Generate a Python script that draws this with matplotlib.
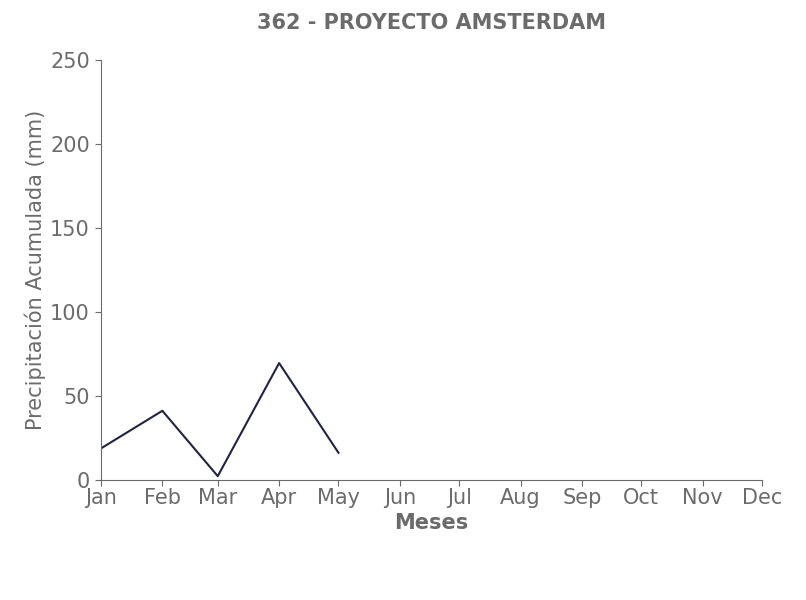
import matplotlib
matplotlib.use('Agg')
import matplotlib.pyplot as plt
import matplotlib.dates as mdates
import numpy as np
import datetime as dt

# Data
meses = [dt.datetime(2023, m, 1) for m in range(1, 6)]
precip = [18.8, 41.2, 2.3, 69.6, 16.2]

gris = '#6b6b6b'

fig = plt.figure(figsize=(8.06, 6), dpi=100)
ax = fig.add_axes([101/806, 120/600, 661/806, 420/600])

ax.plot(meses, precip, color='#222244', linewidth=1.5)

ax.set_xlim(dt.datetime(2023, 1, 1), dt.datetime(2023, 12, 1))
ax.set_ylim(0, 250)
ax.xaxis.set_major_locator(mdates.MonthLocator())
ax.xaxis.set_major_formatter(mdates.DateFormatter('%b'))

for s in ['top', 'right']:
    ax.spines[s].set_visible(False)
for s in ['left', 'bottom']:
    ax.spines[s].set_color(gris)

ax.tick_params(colors=gris, labelsize=15, length=4)
ax.tick_params(axis='x', pad=1.5)
ax.tick_params(axis='y', pad=4)
ax.set_title('362 - PROYECTO AMSTERDAM', fontsize=15, fontweight='bold', color=gris, pad=22)
ax.set_xlabel('Meses', fontsize=15, fontweight='bold', color=gris, labelpad=4)
ax.set_ylabel('Precipitación Acumulada (mm)', fontsize=15, color=gris, labelpad=3)

fig.savefig('out.png', dpi=100)
